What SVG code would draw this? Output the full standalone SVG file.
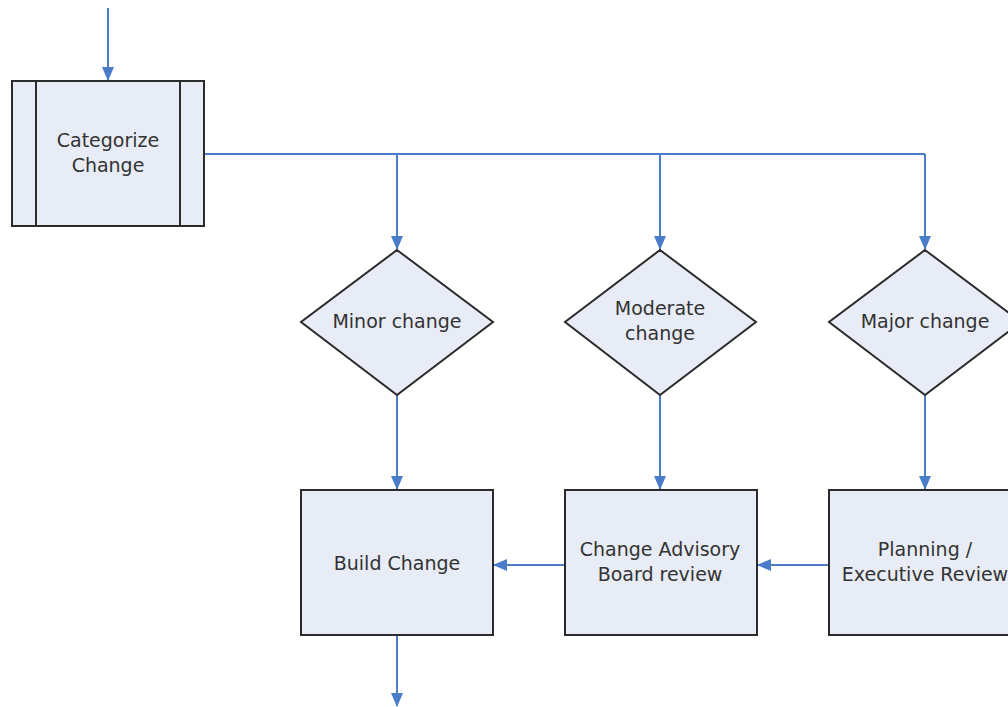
<svg xmlns="http://www.w3.org/2000/svg" width="1008" height="707" viewBox="0 0 1008 707">
  <style>
    .shape { fill: #e8ecf6; stroke: #2b2b2b; stroke-width: 2; }
    .bar { stroke: #2b2b2b; stroke-width: 2; fill: none; }
    .flow { stroke: #4a7cc9; stroke-width: 2; fill: none; }
    .label { font-family: "DejaVu Sans", Verdana, sans-serif; font-size: 19px; fill: #333333; text-anchor: middle; }
  </style>
  <defs>
    <marker id="arrow" markerWidth="14" markerHeight="12" refX="13" refY="6" orient="auto" markerUnits="userSpaceOnUse">
      <path d="M0,0 L14,6 L0,12 Z" fill="#4a7cc9"/>
    </marker>
  </defs>
  <rect width="1008" height="707" fill="#ffffff"/>

  <g id="connectors">
    <line class="flow" x1="108" y1="8" x2="108" y2="80" marker-end="url(#arrow)"/>
    <polyline class="flow" points="205,154 925,154"/>
    <line class="flow" x1="397" y1="154" x2="397" y2="249" marker-end="url(#arrow)"/>
    <line class="flow" x1="660" y1="154" x2="660" y2="249" marker-end="url(#arrow)"/>
    <line class="flow" x1="925" y1="154" x2="925" y2="249" marker-end="url(#arrow)"/>
    <line class="flow" x1="397" y1="395" x2="397" y2="489" marker-end="url(#arrow)"/>
    <line class="flow" x1="660" y1="395" x2="660" y2="489" marker-end="url(#arrow)"/>
    <line class="flow" x1="925" y1="395" x2="925" y2="489" marker-end="url(#arrow)"/>
    <line class="flow" x1="565" y1="565" x2="494" y2="565" marker-end="url(#arrow)"/>
    <line class="flow" x1="829" y1="565" x2="758" y2="565" marker-end="url(#arrow)"/>
    <line class="flow" x1="397" y1="636" x2="397" y2="706" marker-end="url(#arrow)"/>
  </g>

  <g id="categorize-change">
    <rect class="shape" x="12" y="81" width="192" height="145"/>
    <line class="bar" x1="36" y1="81" x2="36" y2="226"/>
    <line class="bar" x1="180" y1="81" x2="180" y2="226"/>
    <text class="label" x="108" y="147">Categorize</text>
    <text class="label" x="108" y="172">Change</text>
  </g>

  <g id="minor-change">
    <polygon class="shape" points="397,250 493,322 397,395 301,322"/>
    <text class="label" x="397" y="328">Minor change</text>
  </g>

  <g id="moderate-change">
    <polygon class="shape" points="660,250 756,322 660,395 565,322"/>
    <text class="label" x="660" y="315">Moderate</text>
    <text class="label" x="660" y="340">change</text>
  </g>

  <g id="major-change">
    <polygon class="shape" points="925,250 1021,322 925,395 829,322"/>
    <text class="label" x="925" y="328">Major change</text>
  </g>

  <g id="build-change">
    <rect class="shape" x="301" y="490" width="192" height="145"/>
    <text class="label" x="397" y="570">Build Change</text>
  </g>

  <g id="cab-review">
    <rect class="shape" x="565" y="490" width="192" height="145"/>
    <text class="label" x="660" y="556">Change Advisory</text>
    <text class="label" x="660" y="581">Board review</text>
  </g>

  <g id="planning-review">
    <rect class="shape" x="829" y="490" width="192" height="145"/>
    <text class="label" x="925" y="556">Planning /</text>
    <text class="label" x="925" y="581">Executive Review</text>
  </g>
</svg>
